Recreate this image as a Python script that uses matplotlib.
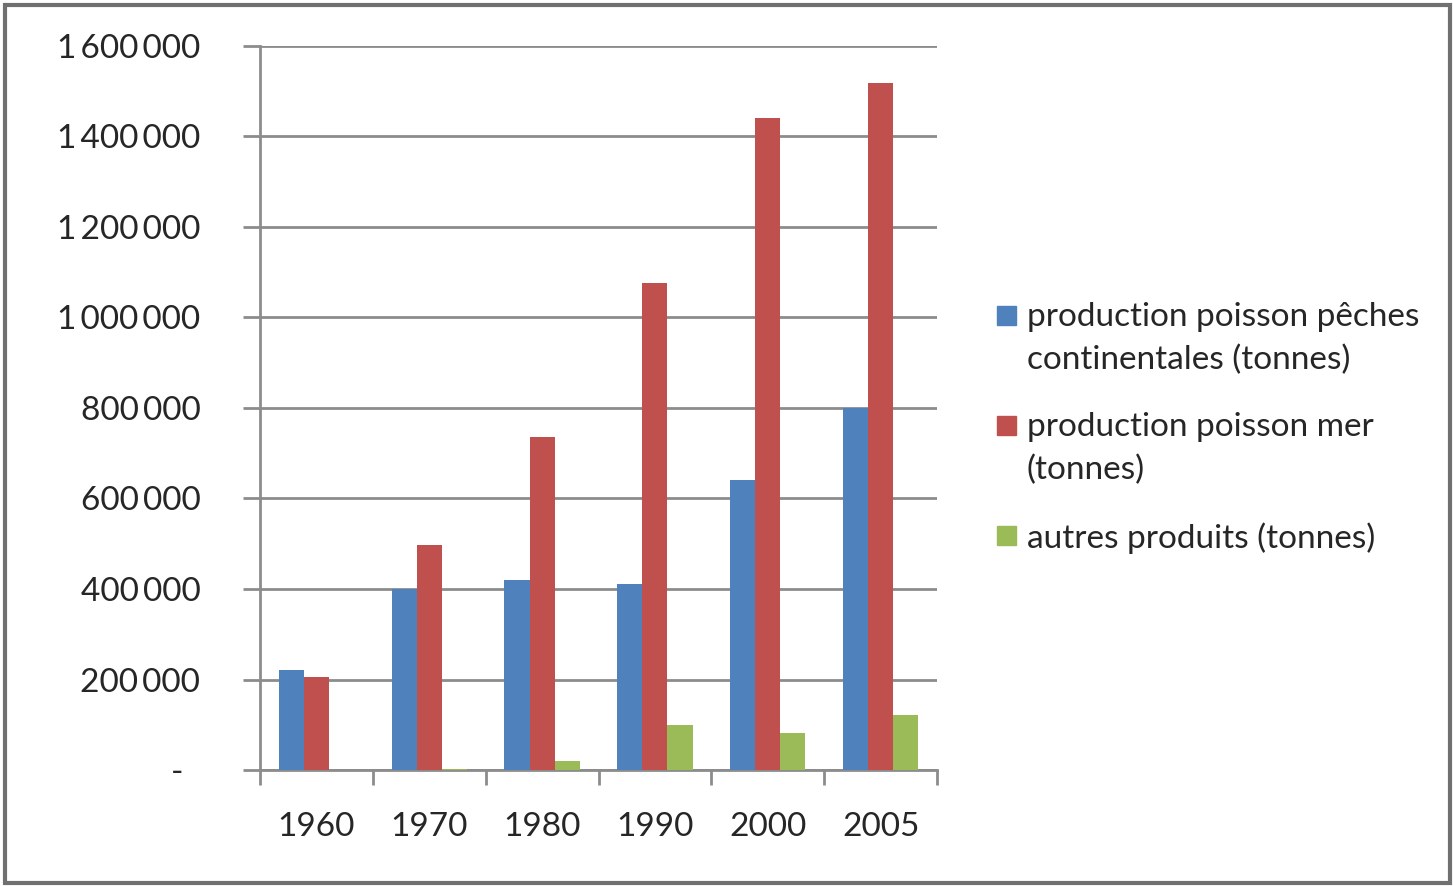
import numpy as np
import matplotlib
matplotlib.use("Agg")
import matplotlib.pyplot as plt
from matplotlib.ticker import FuncFormatter, FixedLocator
from matplotlib.patches import Rectangle

plt.rcParams['font.family'] = ['Lato', 'DejaVu Sans']

years = ["1960", "1970", "1980", "1990", "2000", "2005"]
peches_continentales = [220000, 400000, 420000, 410000, 640000, 800000]
poisson_mer = [205000, 497000, 737000, 1077000, 1440000, 1518000]
autres_produits = [0, 3000, 20000, 100000, 82000, 122000]

labels = [
    "production poisson pêches\ncontinentales (tonnes)",
    "production poisson mer\n(tonnes)",
    "autres produits (tonnes)",
]
colors = ["#4F81BD", "#C0504D", "#9BBB59"]
grid_col = "#8C8C8C"
text_col = "#262626"

W, H = 1453, 886
fig = plt.figure(figsize=(W / 100, H / 100), dpi=100)
ax = fig.add_axes([260 / W, 1 - 770 / H, (937 - 260) / W, (770 - 46) / H])

x = np.arange(len(years))
w = 1 / 4.5
series = [peches_continentales, poisson_mer, autres_produits]
for i, (vals, c) in enumerate(zip(series, colors)):
    ax.bar(x + (i - 1) * w, vals, width=w, color=c, zorder=3)

ax.set_xlim(-0.5, len(years) - 0.5)
ax.set_ylim(0, 1600000)
ax.set_yticks(np.arange(0, 1600001, 200000))

def fmt(v, pos):
    if v == 0:
        return "-  "
    return f"{int(v):,}".replace(",", "\u2009")

ax.yaxis.set_major_formatter(FuncFormatter(fmt))
ax.yaxis.grid(True, color=grid_col, linewidth=2, zorder=0)

ax.set_xticks(x)
ax.set_xticklabels(years)
ax.xaxis.set_minor_locator(FixedLocator(np.arange(-0.5, len(years), 1)))
ax.tick_params(axis="x", which="major", length=0, pad=30, labelsize=24, labelcolor=text_col)
ax.tick_params(axis="x", which="minor", length=11, width=2, color=grid_col)
ax.tick_params(axis="y", length=12, width=2, color=grid_col, pad=31, labelsize=24, labelcolor=text_col)

for s in ["top", "right"]:
    ax.spines[s].set_visible(False)
for s in ["left", "bottom"]:
    ax.spines[s].set_color(grid_col)
    ax.spines[s].set_linewidth(2)

# legend laid out like the Excel one: square aligned with the first text line
leg_y = [315, 425, 535]
for lab, c, yy in zip(labels, colors, leg_y):
    fig.patches.append(Rectangle((997 / W, 1 - (yy + 10) / H), 19 / W, 19 / H,
                                 transform=fig.transFigure, color=c))
    fig.text(1027 / W, 1 - (yy - 13) / H, lab, fontsize=24, color=text_col,
             va="top", ha="left", linespacing=1.52)

# outer frame of the screenshot
fig.patches.append(Rectangle((5 / W, 3 / H), 1445 / W, 878 / H, transform=fig.transFigure,
                             fill=False, edgecolor="#707070", linewidth=3))

fig.savefig("out.png", dpi=100)
